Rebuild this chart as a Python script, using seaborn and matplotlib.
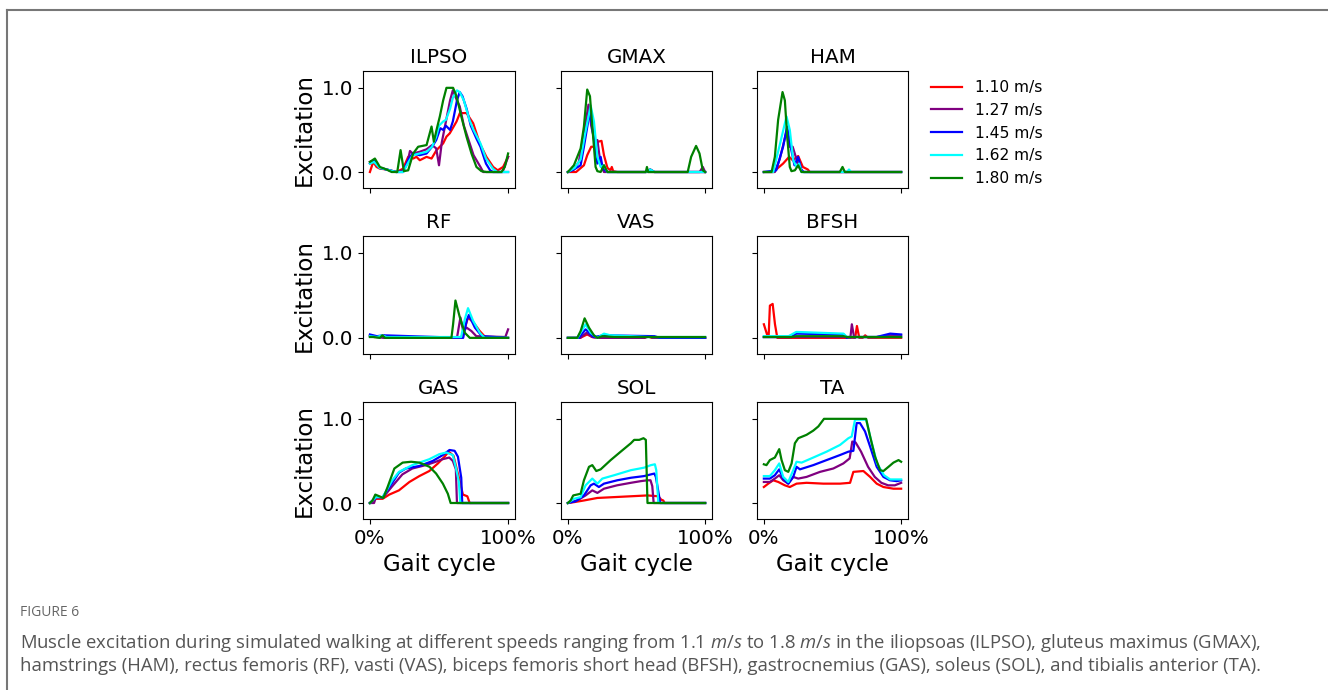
import pandas as pd
import seaborn as sns
import matplotlib.pyplot as plt
from matplotlib.lines import Line2D

# speeds / colours / panels
SPEEDS = ["1.10 m/s", "1.27 m/s", "1.45 m/s", "1.62 m/s", "1.80 m/s"]
COLORS = ["red", "purple", "blue", "cyan", "green"]
MUSCLES = ["ILPSO", "GMAX", "HAM", "RF", "VAS", "BFSH", "GAS", "SOL", "TA"]

# each muscle: list of 5 curves (one per speed), x in % gait cycle
ILPSO_X = [
    [0, 2.4, 4.8, 7.2, 12, 19.3, 24, 27.7, 31.3, 33.7, 36.1, 41, 44.6, 48.2, 53, 55.4, 57.8, 62.7, 65.1, 69.9, 74.7, 79.5, 84.3, 89.2, 92.5, 96.4, 100],
    [0, 3, 7, 12, 19, 24, 27, 29, 31, 36, 41, 45, 48, 50, 52, 55, 58, 60, 63, 65, 68, 72, 75, 80, 82, 96, 100],
    [0, 3, 7, 12, 19, 24, 28, 31, 36, 41, 45, 48, 51, 53, 55, 58, 60, 63, 65, 67, 70, 73, 77, 80, 84, 87, 89, 100],
    [0, 3, 7, 12, 19, 24, 28, 31, 36, 41, 45, 48, 50, 53, 55, 58, 60, 63, 65, 68, 72, 75, 80, 84, 89, 92, 100],
    [0, 3.6, 7.2, 12, 15.7, 19.8, 22.2, 24.6, 27.7, 31.3, 34.9, 41, 44.6, 46.3, 48.2, 50.6, 53, 55.4, 60.2, 62.7, 66.3, 69.9, 73.5, 77.1, 80.7, 84.3, 95.2, 97.6, 100],
]
ILPSO_Y = [
    [0.0, 0.12, 0.06, 0.04, 0.03, 0.0, 0.04, 0.18, 0.16, 0.18, 0.14, 0.18, 0.16, 0.26, 0.34, 0.42, 0.46, 0.6, 0.7, 0.7, 0.58, 0.34, 0.18, 0.06, 0.02, 0.06, 0.18],
    [0.12, 0.14, 0.05, 0.03, 0.0, 0.02, 0.1, 0.25, 0.22, 0.24, 0.27, 0.32, 0.28, 0.08, 0.35, 0.6, 0.85, 0.97, 0.85, 0.78, 0.55, 0.35, 0.2, 0.06, 0.0, 0.0, 0.18],
    [0.1, 0.14, 0.05, 0.03, 0.0, 0.0, 0.15, 0.22, 0.2, 0.22, 0.3, 0.38, 0.52, 0.5, 0.55, 0.5, 0.6, 0.85, 0.95, 0.9, 0.75, 0.55, 0.4, 0.3, 0.1, 0.02, 0.0, 0.0],
    [0.1, 0.12, 0.05, 0.03, 0.0, 0.0, 0.12, 0.2, 0.22, 0.24, 0.3, 0.42, 0.55, 0.6, 0.62, 0.75, 0.88, 0.97, 0.95, 0.85, 0.62, 0.5, 0.34, 0.16, 0.04, 0.0, 0.0],
    [0.12, 0.16, 0.06, 0.03, 0.0, 0.0, 0.26, 0.01, 0.02, 0.22, 0.30, 0.32, 0.54, 0.36, 0.50, 0.66, 0.85, 1.0, 1.0, 0.9, 0.65, 0.42, 0.22, 0.06, 0.01, 0.0, 0.0, 0.06, 0.22],
]

GMAX_X = [
    [0, 6, 11.7, 14.1, 17, 19, 22, 24.5, 26.3, 28.8, 31, 32, 33, 36, 57, 60, 63, 100],
    [0, 4.4, 8, 11.7, 15, 17, 19.5, 21.5, 23.9, 26.3, 28.8, 90, 96, 98.3, 100],
    [0, 4.4, 9.3, 11.7, 16, 18, 21.5, 23.9, 25.5, 28.8, 57, 60, 63, 100],
    [0, 5, 9.3, 12.5, 16.6, 19, 21.5, 23.9, 26.3, 28.8, 57, 60, 63, 100],
    [0, 4.4, 9.3, 11.7, 14.1, 16.1, 17.8, 20.2, 21.5, 23.9, 26.3, 28.8, 56.8, 57.6, 58.5, 87.3, 89.8, 93.4, 95.9, 98.3, 100],
]
GMAX_Y = [
    [0.0, 0.0, 0.08, 0.2, 0.3, 0.3, 0.36, 0.37, 0.2, 0.05, 0.02, 0.06, 0.01, 0.0, 0.0, 0.03, 0.0, 0.0],
    [0.0, 0.03, 0.12, 0.45, 0.8, 0.55, 0.36, 0.38, 0.08, 0.0, 0.0, 0.0, 0.0, 0.06, 0.0],
    [0.0, 0.03, 0.08, 0.3, 0.72, 0.5, 0.1, 0.18, 0.04, 0.0, 0.0, 0.03, 0.0, 0.0],
    [0.0, 0.05, 0.15, 0.45, 0.79, 0.6, 0.18, 0.06, 0.08, 0.0, 0.0, 0.03, 0.0, 0.0],
    [0.0, 0.08, 0.28, 0.54, 0.98, 0.9, 0.54, 0.06, 0.01, 0.0, 0.08, 0.0, 0.0, 0.06, 0.0, 0.0, 0.18, 0.31, 0.22, 0.02, 0.0],
]

HAM_X = [
    [0, 6.8, 14, 18.4, 21, 25, 28.4, 32, 33.5, 100],
    [0, 8, 11.5, 16.5, 18.5, 21, 25.5, 28.9, 100],
    [0, 9, 14, 16.9, 20, 22.3, 25, 27.4, 29, 100],
    [0, 6.8, 11.7, 16.5, 18.9, 21.4, 23.8, 25.7, 27.4, 60.6, 62, 63.5, 100],
    [0, 5.6, 8, 10.4, 13.6, 15.3, 17, 18.9, 20.1, 22.6, 25, 27.4, 55.3, 57.3, 59, 100],
]
HAM_Y = [
    [0.0, 0.0, 0.1, 0.18, 0.14, 0.19, 0.06, 0.03, 0.0, 0.0],
    [0.0, 0.0, 0.15, 0.48, 0.3, 0.3, 0.06, 0.0, 0.0],
    [0.0, 0.02, 0.3, 0.54, 0.26, 0.08, 0.18, 0.02, 0.0, 0.0],
    [0.0, 0.0, 0.33, 0.66, 0.5, 0.14, 0.06, 0.1, 0.0, 0.0, 0.03, 0.0, 0.0],
    [0.0, 0.0, 0.18, 0.62, 0.95, 0.85, 0.42, 0.06, 0.01, 0.02, 0.08, 0.0, 0.0, 0.06, 0.0, 0.0],
]

RF_X = [
    [0, 3, 7, 10, 13, 66, 68, 71, 75, 79.5, 84, 100],
    [0, 5, 10, 63, 65.5, 67.5, 70, 73.5, 77, 98, 100],
    [0, 5, 10, 67.5, 70, 71.6, 76, 81, 100],
    [0, 5, 9, 12, 66, 68.7, 71, 74.7, 79.5, 83, 100],
    [0, 2.4, 7.2, 9, 11, 59, 60.2, 61.9, 65.1, 68.7, 72.3, 100],
]
RF_Y = [
    [0.03, 0.01, 0.01, 0.03, 0.0, 0.0, 0.08, 0.24, 0.18, 0.08, 0.0, 0.0],
    [0.02, 0.01, 0.0, 0.0, 0.24, 0.08, 0.12, 0.08, 0.02, 0.01, 0.1],
    [0.04, 0.02, 0.03, 0.0, 0.2, 0.27, 0.12, 0.02, 0.0],
    [0.02, 0.01, 0.03, 0.01, 0.01, 0.22, 0.35, 0.2, 0.06, 0.0, 0.0],
    [0.01, 0.01, 0.0, 0.03, 0.0, 0.0, 0.16, 0.44, 0.24, 0.06, 0.0, 0.0],
]

VAS_X = [
    [0, 9, 14, 18, 22, 56, 58, 61, 100],
    [0, 9, 13.6, 17.6, 22, 55.5, 60, 62, 100],
    [0, 8, 12.9, 19, 26, 63, 67, 100],
    [0, 7, 12.9, 16.6, 21.5, 26.3, 31, 46, 58, 100],
    [0, 6.8, 9.3, 12.2, 15.4, 19, 21.5, 25.1, 33.7, 100],
]
VAS_Y = [
    [0.0, 0.0, 0.04, 0.01, 0.0, 0.0, 0.02, 0.0, 0.0],
    [0.0, 0.0, 0.06, 0.01, 0.0, 0.0, 0.02, 0.0, 0.0],
    [0.0, 0.0, 0.1, 0.01, 0.03, 0.02, 0.0, 0.0],
    [0.0, 0.0, 0.16, 0.06, 0.0, 0.05, 0.03, 0.02, 0.01, 0.01],
    [0.0, 0.0, 0.08, 0.23, 0.12, 0.03, 0.0, 0.02, 0.01, 0.01],
]

BFSH_X = [
    [0, 2.5, 3.5, 4.4, 6.4, 8.1, 9.8, 11.5, 63, 66.5, 67.8, 69.5, 72, 73.8, 76, 100],
    [0, 20, 62, 63, 64.1, 65.8, 67, 82, 92, 100],
    [0, 20, 23.6, 58, 60.5, 62, 82, 92, 100],
    [0, 18, 23.6, 58, 60.5, 62, 100],
    [0, 20, 23.6, 58, 60.5, 62, 100],
]
BFSH_Y = [
    [0.16, 0.03, 0.03, 0.38, 0.4, 0.16, 0.0, 0.0, 0.0, 0.0, 0.14, 0.0, 0.0, 0.03, 0.0, 0.0],
    [0.01, 0.01, 0.01, 0.0, 0.16, 0.0, 0.01, 0.01, 0.03, 0.03],
    [0.01, 0.01, 0.05, 0.04, 0.0, 0.01, 0.01, 0.05, 0.04],
    [0.02, 0.02, 0.07, 0.05, 0.01, 0.01, 0.01],
    [0.01, 0.01, 0.02, 0.02, 0.01, 0.01, 0.01],
]

GAS_X = [
    [0, 4.4, 9.2, 14, 21, 28.6, 35.8, 43, 49.2, 54, 57, 60.5, 64.4, 67.3, 70.5, 72.2, 100],
    [0, 3, 4.4, 9.2, 16.2, 23.5, 30.7, 40.4, 47.7, 52.5, 57.4, 60, 62.2, 63, 100],
    [0, 4.4, 9.2, 16.2, 21, 26, 35.8, 45.5, 52.8, 57.6, 61.3, 63.7, 66.1, 66.8, 100],
    [0, 4.4, 9.2, 16.2, 21, 30.7, 42.9, 50.2, 55.2, 60, 62.5, 64.4, 65.4, 100],
    [0, 1.9, 3.9, 6.8, 9.7, 12.8, 17.7, 23.7, 29.8, 35.8, 43.1, 47.9, 52.8, 56.4, 58.4, 100],
]
GAS_Y = [
    [0.0, 0.05, 0.05, 0.1, 0.15, 0.25, 0.32, 0.38, 0.47, 0.55, 0.61, 0.56, 0.3, 0.1, 0.08, 0.0, 0.0],
    [0.0, 0.0, 0.07, 0.06, 0.2, 0.34, 0.41, 0.45, 0.49, 0.52, 0.54, 0.5, 0.4, 0.0, 0.0],
    [0.0, 0.07, 0.07, 0.24, 0.36, 0.41, 0.44, 0.5, 0.57, 0.63, 0.62, 0.55, 0.3, 0.0, 0.0],
    [0.0, 0.07, 0.07, 0.27, 0.37, 0.45, 0.52, 0.58, 0.6, 0.57, 0.4, 0.25, 0.0, 0.0],
    [0.0, 0.03, 0.1, 0.08, 0.06, 0.19, 0.41, 0.48, 0.49, 0.48, 0.43, 0.35, 0.23, 0.11, 0.0, 0.0],
]

SOL_X = [
    [0, 4.4, 11.7, 21.5, 33.7, 45.9, 58, 65.9, 68, 69.5, 70.5, 100],
    [0, 6.8, 12.9, 17.8, 21.5, 26.3, 35.8, 45.9, 53.2, 58, 60.2, 61.5, 62.5, 100],
    [0, 5.6, 11.7, 16.6, 19, 22.6, 26.3, 36, 45.9, 55.6, 60.5, 63, 64.1, 67.3, 100],
    [0, 4.4, 9.3, 12.9, 17.8, 21.5, 25.1, 33.7, 45.9, 55.6, 60.5, 63.4, 64.4, 65.9, 100],
    [0, 2, 3.9, 9.3, 11.7, 15.4, 17.8, 20.7, 23.9, 31.2, 38.5, 45.9, 48.3, 52, 55.1, 56.8, 58, 100],
]
SOL_Y = [
    [0.0, 0.01, 0.03, 0.06, 0.07, 0.08, 0.09, 0.08, 0.04, 0.03, 0.0, 0.0],
    [0.0, 0.03, 0.09, 0.15, 0.12, 0.17, 0.21, 0.24, 0.26, 0.27, 0.27, 0.2, 0.0, 0.0],
    [0.0, 0.02, 0.09, 0.21, 0.23, 0.19, 0.23, 0.27, 0.3, 0.32, 0.34, 0.35, 0.31, 0.0, 0.0],
    [0.0, 0.05, 0.07, 0.21, 0.29, 0.23, 0.29, 0.33, 0.39, 0.42, 0.45, 0.46, 0.39, 0.0, 0.0],
    [0.0, 0.03, 0.09, 0.11, 0.27, 0.43, 0.45, 0.38, 0.4, 0.51, 0.61, 0.71, 0.75, 0.75, 0.77, 0.75, 0.0, 0.0],
]

TA_X = [
    [0, 3.2, 6.8, 10.5, 15.3, 18.9, 23.8, 31.1, 43.3, 55.5, 62.8, 65.2, 72.5, 77.4, 82.2, 87.1, 94.4, 100],
    [0, 4.4, 8, 11.2, 14.1, 17.8, 21.4, 25, 31.1, 40.9, 50.6, 57.9, 62.5, 64.4, 66.8, 70.8, 75.9, 80.8, 85.6, 90.5, 95.4, 100],
    [0, 4.4, 8, 11.2, 14.1, 17.8, 21.4, 23.8, 26.3, 36, 45.7, 55.5, 61.6, 65.2, 67.6, 70, 73.7, 77.4, 82.2, 87.1, 91.9, 96.8, 100],
    [0, 4.4, 8, 11.2, 14.1, 17.8, 21.4, 23.8, 27.5, 36, 45.7, 55.5, 61.6, 64, 66.4, 74.5, 78.5, 82.5, 87.5, 92, 100],
    [0, 1.9, 4.4, 8, 11.2, 12.9, 15.3, 17.8, 20.2, 22.6, 25.1, 31.1, 36, 39.7, 43.8, 74.5, 77.4, 81, 84.7, 87.1, 90.8, 94.4, 98.1, 100],
]
TA_Y = [
    [0.19, 0.23, 0.27, 0.25, 0.21, 0.19, 0.23, 0.24, 0.23, 0.23, 0.24, 0.37, 0.38, 0.31, 0.23, 0.19, 0.17, 0.17],
    [0.25, 0.25, 0.29, 0.33, 0.27, 0.23, 0.31, 0.29, 0.31, 0.37, 0.41, 0.47, 0.53, 0.73, 0.72, 0.61, 0.43, 0.31, 0.24, 0.21, 0.21, 0.24],
    [0.29, 0.29, 0.33, 0.4, 0.29, 0.23, 0.31, 0.43, 0.4, 0.45, 0.51, 0.57, 0.61, 0.62, 0.95, 0.95, 0.85, 0.67, 0.43, 0.31, 0.27, 0.26, 0.27],
    [0.32, 0.32, 0.39, 0.47, 0.31, 0.25, 0.39, 0.49, 0.48, 0.54, 0.61, 0.69, 0.77, 0.79, 0.99, 0.99, 0.72, 0.47, 0.33, 0.28, 0.28],
    [0.46, 0.45, 0.51, 0.54, 0.64, 0.51, 0.39, 0.37, 0.47, 0.71, 0.77, 0.81, 0.86, 0.91, 1.0, 1.0, 0.79, 0.55, 0.39, 0.38, 0.43, 0.48, 0.51, 0.49],
]

ALL_X = [ILPSO_X, GMAX_X, HAM_X, RF_X, VAS_X, BFSH_X, GAS_X, SOL_X, TA_X]
ALL_Y = [ILPSO_Y, GMAX_Y, HAM_Y, RF_Y, VAS_Y, BFSH_Y, GAS_Y, SOL_Y, TA_Y]

# long table for seaborn
rows = []
for m, xs, ys in zip(MUSCLES, ALL_X, ALL_Y):
    for s, x, y in zip(SPEEDS, xs, ys):
        for xi, yi in zip(x, y):
            rows.append((m, s, xi, yi))
df = pd.DataFrame(rows, columns=["muscle", "speed", "gait", "excitation"])

plt.rcParams["mathtext.fontset"] = "custom"
plt.rcParams["mathtext.it"] = "Open Sans:italic"
plt.rcParams["mathtext.rm"] = "Open Sans"

W, H = 1328, 690
fig = plt.figure(figsize=(W / 100, H / 100), dpi=100)

# panel boxes in pixels
col_px = [(363, 515), (561, 712), (757, 908)]
row_px = [(71, 188), (236, 354), (402, 519)]
palette = dict(zip(SPEEDS, COLORS))

axes = []
for i, m in enumerate(MUSCLES):
    r, c = divmod(i, 3)
    l, rr = col_px[c]
    t, b = row_px[r]
    ax = fig.add_axes([l / W, 1 - b / H, (rr - l) / W, (b - t) / H])
    sns.lineplot(data=df[df["muscle"] == m], x="gait", y="excitation", hue="speed",
                 hue_order=SPEEDS, palette=palette, estimator=None, sort=False,
                 linewidth=1.6, legend=(i == 2), ax=ax)
    ax.set_xlim(-5, 105)
    ax.set_ylim(-0.19, 1.2)
    ax.set_xticks([0, 100])
    ax.set_yticks([0, 1])
    ax.set_title(m, fontsize=14.3)
    ax.tick_params(labelsize=14.3)
    ax.set_xlabel("")
    ax.set_ylabel("")
    if c == 0:
        ax.set_yticklabels(["0.0", "1.0"])
        ax.set_ylabel("Excitation", fontsize=16.5)
    else:
        ax.set_yticklabels([])
    if r == 2:
        ax.set_xticklabels(["0%", "100%"])
        ax.set_xlabel("Gait cycle", fontsize=16.5)
    else:
        ax.set_xticklabels([])
    axes.append(ax)

handles, labels = axes[2].get_legend_handles_labels()
axes[2].get_legend().remove()
fig.legend(handles, labels, loc="upper left", bbox_to_anchor=(917 / W, 1 - 66 / H),
           frameon=False, fontsize=11.2, handlelength=2.0, labelspacing=0.5)

# caption
fig.text(20 / W, 1 - 613 / H, "FIGURE 6", fontsize=10, color="#666666",
         family="Open Sans", va="center")
fig.text(20 / W, 1 - 643 / H,
         r"Muscle excitation during simulated walking at different speeds ranging from 1.1 $m/s$ to 1.8 $m/s$ in the iliopsoas (ILPSO), gluteus maximus (GMAX),",
         fontsize=13.35, color="#555555", family="Open Sans", va="center")
fig.text(20 / W, 1 - 666 / H,
         "hamstrings (HAM), rectus femoris (RF), vasti (VAS), biceps femoris short head (BFSH), gastrocnemius (GAS), soleus (SOL), and tibialis anterior (TA).",
         fontsize=13.3, color="#555555", family="Open Sans", va="center")

# page frame (top + left edges)
fig.add_artist(Line2D([7 / W, 1], [1 - 10 / H, 1 - 10 / H], color="#777777", linewidth=1.5))
fig.add_artist(Line2D([7 / W, 7 / W], [0, 1 - 10 / H], color="#777777", linewidth=1.5))

fig.savefig("out.png", dpi=100)
